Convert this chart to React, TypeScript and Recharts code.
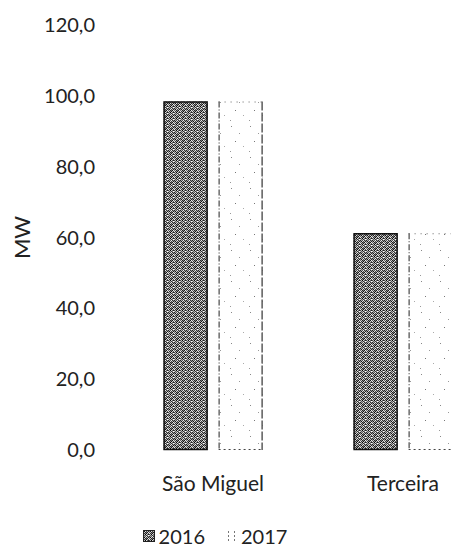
import React from "react";
import { BarChart, Bar, XAxis, YAxis, Legend, Label } from "recharts";

const categories = ["São Miguel", "Terceira"];
const series2016 = [98.4, 61.2];
const series2017 = [98.4, 61.2];
const yTicks = [0, 20, 40, 60, 80, 100, 120];
const seriesNames = ["2016", "2017"];

const data = categories.map((c, i) => ({
  name: c,
  y2016: series2016[i],
  y2017: series2017[i],
}));

const FONT = "Lato, 'Open Sans', sans-serif";

// speckle textures (style only)
const darkSpecks: [number, number, string][] = [
  [0, 0, "#222"], [1, 0, "#aaa"], [2, 0, "#555"], [3, 0, "#eee"], [4, 0, "#333"], [5, 0, "#888"],
  [0, 1, "#999"], [1, 1, "#111"], [2, 1, "#ddd"], [3, 1, "#444"], [4, 1, "#bbb"], [5, 1, "#222"],
  [0, 2, "#666"], [1, 2, "#ccc"], [2, 2, "#222"], [3, 2, "#777"], [4, 2, "#111"], [5, 2, "#eee"],
  [0, 3, "#eee"], [1, 3, "#333"], [2, 3, "#999"], [3, 3, "#111"], [4, 3, "#ccc"], [5, 3, "#555"],
  [0, 4, "#444"], [1, 4, "#bbb"], [2, 4, "#000"], [3, 4, "#ddd"], [4, 4, "#666"], [5, 4, "#222"],
  [0, 5, "#ccc"], [1, 5, "#555"], [2, 5, "#aaa"], [3, 5, "#333"], [4, 5, "#888"], [5, 5, "#fff"],
];

const lightSpecks: [number, number, string][] = [
  [3, 2, "#888"], [11, 9, "#999"], [7, 17, "#777"], [15, 22, "#aaa"], [2, 27, "#999"],
];

const Patterns = () => (
  <defs>
    <pattern id="p2016" width="6" height="6" patternUnits="userSpaceOnUse">
      {darkSpecks.map(([x, y, c], i) => (
        <rect key={i} x={x} y={y} width={1} height={1} fill={c} />
      ))}
    </pattern>
    <pattern id="p2017" width="19" height="31" patternUnits="userSpaceOnUse">
      <rect x={0} y={0} width={19} height={31} fill="#fff" />
      {lightSpecks.map(([x, y, c], i) => (
        <rect key={i} x={x} y={y} width={1} height={1} fill={c} />
      ))}
    </pattern>
  </defs>
);

const Bar2016Shape = (props: any) => {
  const { x, y, width, height } = props;
  return (
    <g>
      <rect x={x} y={y} width={width} height={height} fill="url(#p2016)" />
      <rect x={x + 0.5} y={y + 0.5} width={width - 1} height={height - 1} fill="none" stroke="#111" strokeWidth={1.5} />
    </g>
  );
};

const Bar2017Shape = (props: any) => {
  const { x, y, width, height } = props;
  return (
    <g>
      <rect x={x} y={y} width={width} height={height} fill="url(#p2017)" />
      <line x1={x + 0.5} y1={y} x2={x + 0.5} y2={y + height} stroke="#222" strokeWidth={1} strokeDasharray="6 2 1 2" />
      <line x1={x + width - 0.5} y1={y} x2={x + width - 0.5} y2={y + height} stroke="#333" strokeWidth={1.2} strokeDasharray="9 2" />
      <line x1={x} y1={y + 0.5} x2={x + width} y2={y + 0.5} stroke="#666" strokeWidth={1} strokeDasharray="1 5" />
      <line x1={x} y1={y + height - 0.5} x2={x + width} y2={y + height - 0.5} stroke="#444" strokeWidth={1} strokeDasharray="2 3" />
    </g>
  );
};

const LegendContent = () => (
  <div style={{ display: "flex", justifyContent: "center", alignItems: "center", fontFamily: FONT, fontSize: 20, color: "#222" }}>
    <svg width={12} height={12} style={{ marginRight: 4 }}>
      <rect x={0} y={0} width={12} height={12} fill="url(#p2016)" />
      <rect x={0.5} y={0.5} width={11} height={11} fill="none" stroke="#222" />
    </svg>
    <span style={{ marginRight: 20 }}>{seriesNames[0]}</span>
    <svg width={12} height={12} style={{ marginRight: 4 }}>
      <line x1={3.5} y1={1} x2={3.5} y2={11} stroke="#777" strokeDasharray="2 2" />
      <line x1={9.5} y1={1} x2={9.5} y2={11} stroke="#777" strokeDasharray="2 2" />
    </svg>
    <span>{seriesNames[1]}</span>
  </div>
);

export default function App() {
  return (
    <div style={{ position: "fixed", left: 0, top: 0, width: 451, height: 547, overflow: "hidden", background: "#fff" }}>
      <BarChart
        width={510}
        height={547}
        data={data}
        margin={{ top: 25, right: 12, bottom: 21, left: 0 }}
        barCategoryGap="24%"
        barGap={11}
      >
        <Patterns />
        <YAxis
          width={118}
          domain={[0, 120]}
          ticks={yTicks}
          axisLine={false}
          tickLine={false}
          tickSize={0}
          tickMargin={23}
          interval={0}
          tickFormatter={(v: number) => v.toFixed(1).replace(".", ",")}
          tick={{ fontFamily: FONT, fontSize: 20, fill: "#222" }}
        >
          <Label
            value="MW"
            angle={-90}
            position="insideLeft"
            offset={22}
            style={{ fontFamily: FONT, fontSize: 22, fill: "#222", textAnchor: "middle" }}
          />
        </YAxis>
        <XAxis
          dataKey="name"
          axisLine={false}
          tickLine={false}
          tickSize={0}
          tickMargin={26}
          height={50}
          tick={{ fontFamily: FONT, fontSize: 21, fill: "#222" }}
        />
        <Legend
          verticalAlign="bottom"
          content={<LegendContent />}
          wrapperStyle={{ position: "absolute", left: 0, width: 430, top: 524, height: 26 }}
        />
        <Bar dataKey="y2016" name={seriesNames[0]} isAnimationActive={false} shape={<Bar2016Shape />} />
        <Bar dataKey="y2017" name={seriesNames[1]} isAnimationActive={false} shape={<Bar2017Shape />} />
      </BarChart>
    </div>
  );
}
